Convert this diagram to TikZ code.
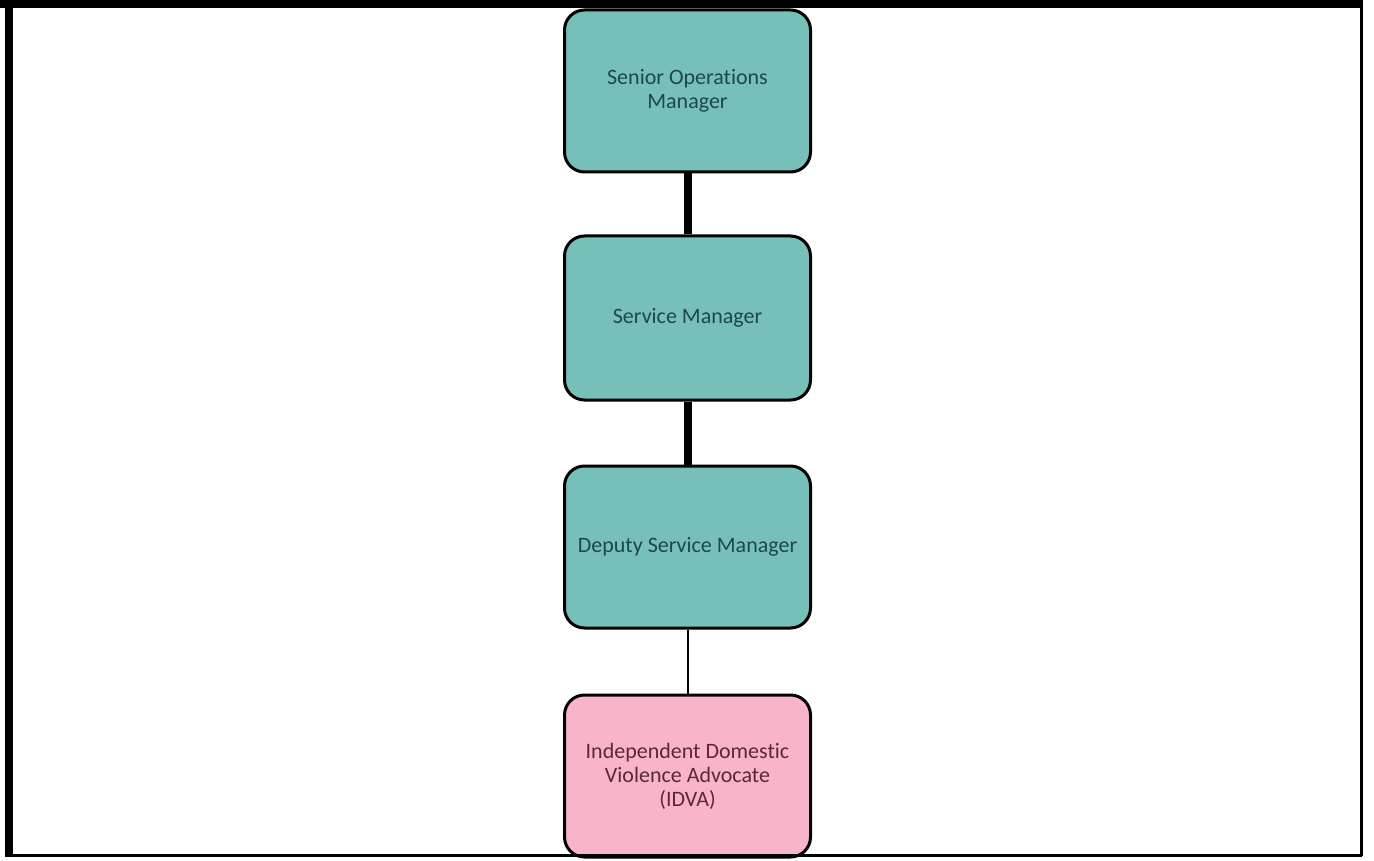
\documentclass[tikz,border=0pt]{standalone}
\usepackage{fontspec}
\setmainfont[Ligatures=NoCommon]{Carlito}
\definecolor{tealfill}{RGB}{118,192,185}
\definecolor{pinkfill}{RGB}{248,180,200}
\definecolor{tealtext}{RGB}{30,72,72}
\definecolor{pinktext}{RGB}{92,40,56}
\tikzset{
  orgbox/.style={draw=black, line width=3pt, rounded corners=20pt, minimum width=246pt, align=center, inner sep=0pt, font=\fontsize{22pt}{24pt}\selectfont},
  tealbox/.style={orgbox, fill=tealfill, text=tealtext},
  pinkbox/.style={orgbox, fill=pinkfill, text=pinktext},
  thickline/.style={line width=8pt, black},
  thinline/.style={line width=2pt, black},
  framestroke/.style={black}
}
\begin{document}
\begin{tikzpicture}[x=1pt,y=1pt]
\useasboundingbox (0,0) rectangle (1374,-861);
\fill[white] (0,0) rectangle (1374,-861);
\node[tealbox, minimum height=162pt] (som) at (687.5,-91) {Senior Operations\\Manager};
\node[tealbox, minimum height=164pt] (sm) at (687.5,-318) {Service Manager};
\node[tealbox, minimum height=162pt] (dsm) at (687.5,-547) {Deputy Service Manager};
\node[pinkbox, minimum height=162pt] (idva) at (687.5,-776) {Independent Domestic\\Violence Advocate\\(IDVA)};
\draw[thickline] (som.south) -- (sm.north);
\draw[thickline] (sm.south) -- (dsm.north);
\draw[thinline] (dsm.south) -- (idva.north);
\coordinate (tl) at (9,-4);
\coordinate (tr) at (1361.5,-4);
\coordinate (bl) at (9,-855.5);
\coordinate (br) at (1361.5,-855.5);
\draw[framestroke, line width=8pt] (0,-4) -- (tr);
\draw[framestroke, line width=8pt] (tl) -- (bl);
\draw[framestroke, line width=3pt] (1361.5,0) -- (br);
\draw[framestroke, line width=3pt] (5,-855.5) -- (br);
\end{tikzpicture}
\end{document}
